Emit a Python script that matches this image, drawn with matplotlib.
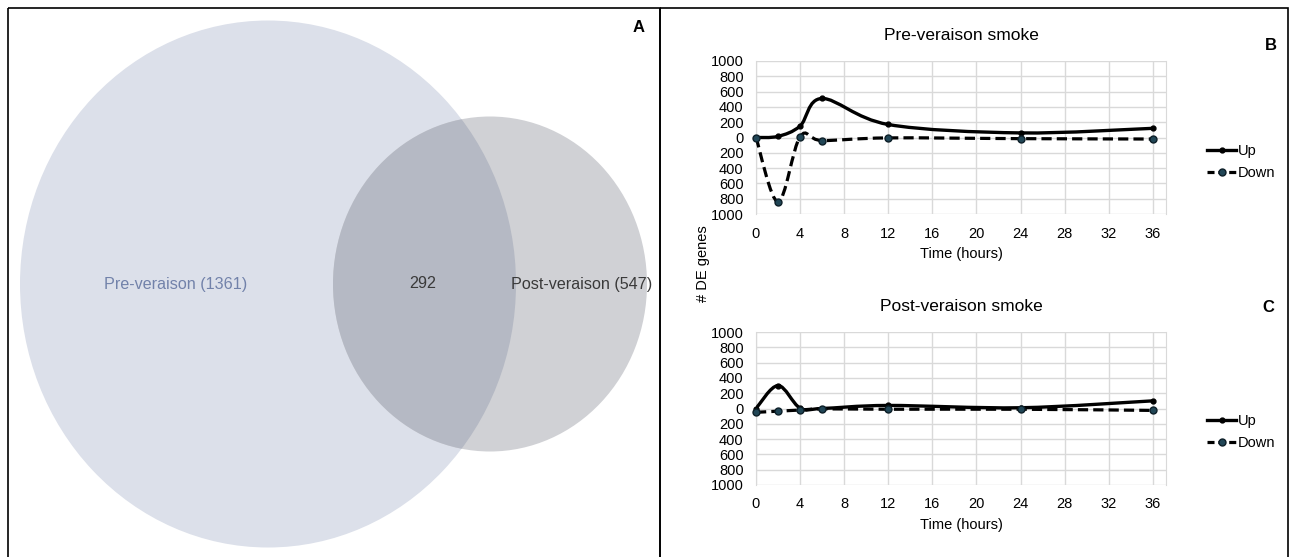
import matplotlib
matplotlib.use("agg")
import matplotlib.pyplot as plt
from matplotlib.patches import Ellipse, Rectangle, PathPatch
from matplotlib.path import Path
from matplotlib.lines import Line2D
from matplotlib.ticker import FuncFormatter
import numpy as np

plt.rcParams['font.family'] = ['Liberation Sans', 'DejaVu Sans']

# Venn counts
pre_only_label = "Pre-veraison (1361)"
post_only_label = "Post-veraison (547)"
shared_count = 292

# time course data (# DE genes, down plotted negative)
hours = [0, 2, 4, 6, 12, 24, 36]
pre_up = [0, 15, 150, 510, 170, 60, 120]
pre_down = [0, -840, 10, -40, -5, -15, -20]
post_up = [0, 300, 5, 0, 40, 10, 100]
post_down = [-50, -35, -20, -5, -10, -10, -25]
x_ticks = list(range(0, 37, 4))
y_ticks = list(range(-1000, 1001, 200))


def smooth_path(xs, ys):
    # excel style smoothed line (catmull-rom as bezier segments)
    pts = np.column_stack([xs, ys]).astype(float)
    ext = np.vstack([pts[0], pts, pts[-1]])
    verts = [tuple(pts[0])]
    codes = [Path.MOVETO]
    for i in range(len(pts) - 1):
        p0, p1, p2, p3 = ext[i], ext[i + 1], ext[i + 2], ext[i + 3]
        c1 = p1 + (p2 - p0) / 6.0
        c2 = p2 - (p3 - p1) / 6.0
        verts += [tuple(c1), tuple(c2), tuple(p2)]
        codes += [Path.CURVE4] * 3
    return Path(verts, codes)


fig = plt.figure(figsize=(12.95, 5.57), dpi=100)

# background / venn layer in pixel coords
ax0 = fig.add_axes([0, 0, 1, 1])
ax0.set_xlim(0, 1295)
ax0.set_ylim(557, 0)
ax0.axis('off')

big = Ellipse((268, 284), 496, 527, facecolor='#dce0ea', edgecolor='none')
small = Ellipse((490, 284), 314, 335, facecolor='#d0d1d5', edgecolor='none')
ax0.add_patch(big)
ax0.add_patch(small)
overlap = Ellipse((490, 284), 314, 335, facecolor='#b5b9c4', edgecolor='none')
ax0.add_patch(overlap)
overlap.set_clip_path(Ellipse((268, 284), 496, 527, transform=ax0.transData))

ax0.text(176, 284, pre_only_label, color='#7282aa', fontsize=11.6, ha='center', va='center')
ax0.text(423, 284, str(shared_count), color='#3a3a3a', fontsize=11.6, ha='center', va='center')
ax0.text(582, 284, post_only_label, color='#3a3a3a', fontsize=11.6, ha='center', va='center')
ax0.text(639, 28, "A", fontsize=12, fontweight='bold', ha='center', va='center')

# panel borders
ax0.add_patch(Rectangle((7.5, 7.5), 652.5, 560, fill=False, edgecolor='black', lw=1.2))
ax0.add_patch(Rectangle((660, 7.5), 628, 560, fill=False, edgecolor='black', lw=1.2))

ax0.text(1271, 45, "B", fontsize=12, fontweight='bold', ha='center', va='center')
ax0.text(1268, 307, "C", fontsize=12, fontweight='bold', ha='center', va='center')
ax0.text(703, 264, "# DE genes", fontsize=10.5, rotation=90, ha='center', va='center')


def line_panel(rect, title, up, down, legend_y):
    ax = fig.add_axes(rect)
    ax.set_xlim(0, 37.2)
    ax.set_ylim(-1000, 1000)
    ax.set_xticks(x_ticks)
    ax.set_yticks(y_ticks)
    ax.yaxis.set_major_formatter(FuncFormatter(lambda v, p: "%d" % abs(v)))
    ax.grid(True, color='#d9d9d9', lw=1)
    ax.set_axisbelow(True)
    for s in ['top', 'bottom']:
        ax.spines[s].set_visible(False)
    ax.spines['left'].set_color('#d9d9d9')
    ax.spines['right'].set_color('#d9d9d9')
    ax.tick_params(length=0, labelsize=10.5)
    ax.tick_params(axis='y', pad=9)
    ax.tick_params(axis='x', pad=9)
    ax.set_title(title, fontsize=12.5, pad=15)
    ax.set_xlabel("Time (hours)", fontsize=10.5, labelpad=5)

    ax.add_patch(PathPatch(smooth_path(hours, up), fill=False, edgecolor='black', lw=2.4,
                           capstyle='round', zorder=3))
    ax.add_patch(PathPatch(smooth_path(hours, down), fill=False, edgecolor='black', lw=2.3,
                           linestyle=(0, (3.2, 1.6)), zorder=3))
    ax.plot(hours, up, 'o', color='black', ms=3.5, zorder=4, clip_on=False)
    ax.plot(hours, down, 'o', color='#214656', mec='#0d1f28', ms=5, zorder=4, clip_on=False)

    handles = [Line2D([], [], color='black', lw=2.4, marker='o', ms=3.5),
               Line2D([], [], color='black', lw=2.3, ls=(0, (2.2, 1.2)), marker='o', ms=5,
                      mfc='#214656', mec='#0d1f28')]
    fig.legend(handles, ["Up", "Down"], loc='center left', bbox_to_anchor=(1207 / 1295, legend_y),
               frameon=False, fontsize=10.5, handlelength=2.0, handletextpad=0.1,
               labelspacing=0.5, borderpad=0, borderaxespad=0)
    return ax


line_panel([756 / 1295, 1 - 214 / 557, 410 / 1295, 153 / 557], "Pre-veraison smoke",
           pre_up, pre_down, 1 - 162 / 557)
line_panel([756 / 1295, 1 - 485 / 557, 410 / 1295, 153 / 557], "Post-veraison smoke",
           post_up, post_down, 1 - 432 / 557)

fig.savefig("out.png", dpi=100)
